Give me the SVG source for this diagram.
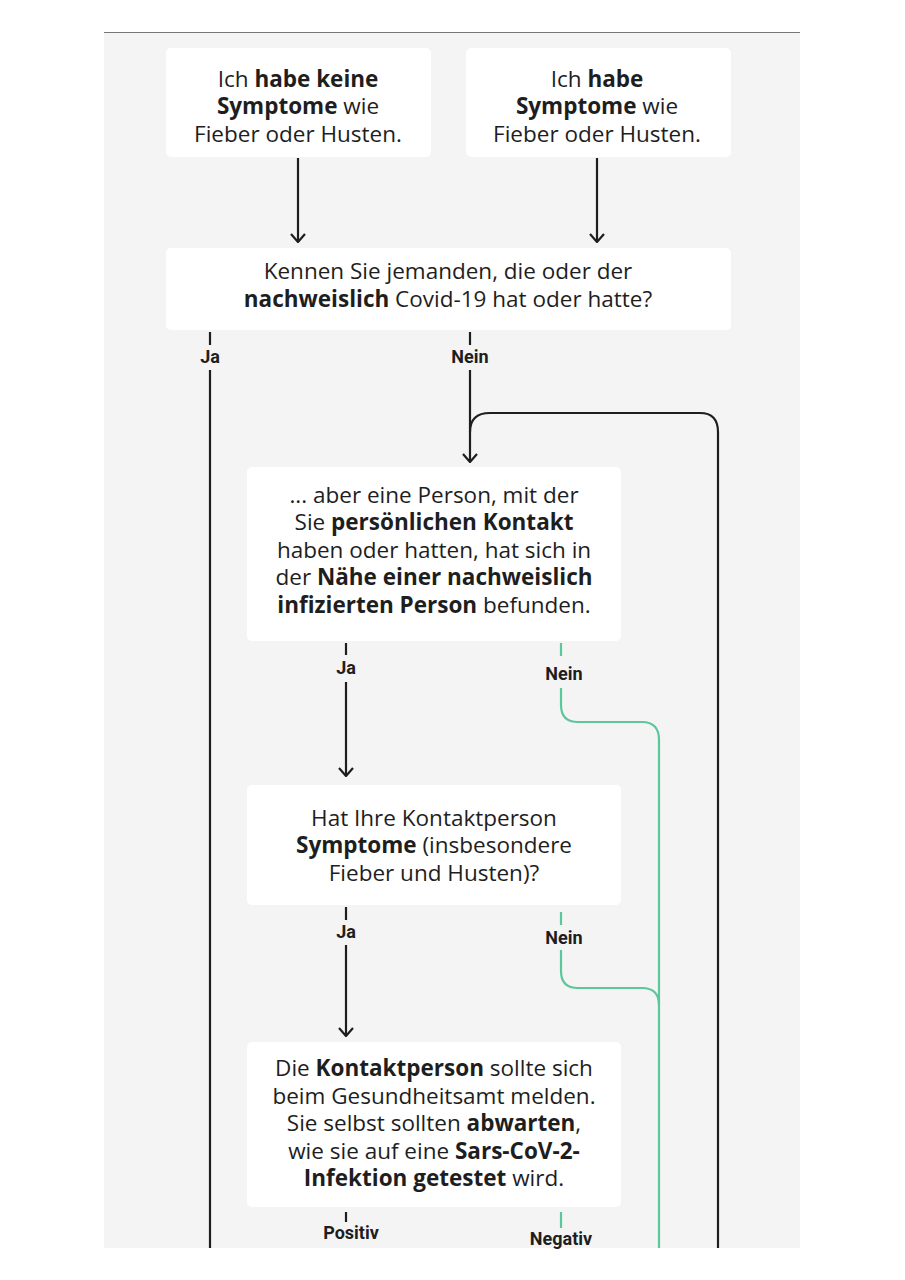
<svg xmlns="http://www.w3.org/2000/svg" width="905" height="1280" viewBox="0 0 905 1280">
<defs>
<style>
.box{fill:#fff}
.t{font-family:"Open Sans",Roboto,"Liberation Sans",sans-serif;font-size:22.5px;fill:#1e1e1e;text-anchor:middle}
.b{font-weight:bold}
.lbl{font-family:Roboto,"Liberation Sans",sans-serif;font-size:18px;font-weight:bold;fill:#1e1e1e;text-anchor:middle}
.k{fill:none;stroke:#1e1e1e;stroke-width:2.2}
.g{fill:none;stroke:#5cc79c;stroke-width:2.2}
</style>
<marker id="ar" viewBox="0 0 10 16" refX="9" refY="8" markerWidth="10" markerHeight="16" markerUnits="userSpaceOnUse" orient="auto">
<path d="M1 1 L9 8 L1 15" fill="none" stroke="#1e1e1e" stroke-width="2.2"/>
</marker>
</defs>
<rect x="0" y="0" width="905" height="1280" fill="#fff"/>
<rect x="104" y="32" width="696" height="1216" fill="#f4f4f4"/>
<line x1="104" y1="32.5" x2="800" y2="32.5" stroke="#777" stroke-width="1"/>
<g id="connectors">
<path class="k" d="M298 158 V242" marker-end="url(#ar)"/>
<path class="k" d="M597 158 V242" marker-end="url(#ar)"/>
<path class="k" d="M210 332 V345 M210 370 V1248"/>
<path class="k" d="M470 370 V462" marker-end="url(#ar)"/>
<path class="k" d="M470 332 V345"/>
<path class="k" d="M470 432 Q470 413 490 413 H700 Q718 413 718 432 V1248"/>
<path class="k" d="M346 643 V655"/>
<path class="k" d="M346 682 V776" marker-end="url(#ar)"/>
<path class="g" d="M561 643 V656 M561 688 V705 Q561 722 578 722 H642 Q659 722 659 740 V1248"/>
<path class="k" d="M346 907 V920"/>
<path class="k" d="M346 945 V1036" marker-end="url(#ar)"/>
<path class="g" d="M561 912 V925 M561 950 V971 Q561 988 578 988 H642 Q659 988 659 1005"/>
<path class="k" d="M346 1212 V1222"/>
<path class="g" d="M561 1212 V1228"/>
<text class="lbl" x="210" y="363">Ja</text>
<text class="lbl" x="470" y="363">Nein</text>
<text class="lbl" x="346" y="674">Ja</text>
<text class="lbl" x="564" y="680">Nein</text>
<text class="lbl" x="346" y="938">Ja</text>
<text class="lbl" x="564" y="944">Nein</text>
<text class="lbl" x="351" y="1239">Positiv</text>
<text class="lbl" x="561" y="1245">Negativ</text>
</g>
<g id="n1"><rect class="box" x="166" y="48" width="265" height="109" rx="5"/>
<text class="t" x="298" y="87">Ich <tspan class="b">habe keine</tspan></text>
<text class="t" x="298" y="114"><tspan class="b">Symptome</tspan> wie</text>
<text class="t" x="298" y="142">Fieber oder Husten.</text></g>
<g id="n2"><rect class="box" x="466" y="48" width="265" height="109" rx="5"/>
<text class="t" x="597" y="87">Ich <tspan class="b">habe</tspan></text>
<text class="t" x="597" y="114"><tspan class="b">Symptome</tspan> wie</text>
<text class="t" x="597" y="142">Fieber oder Husten.</text></g>
<g id="n3"><rect class="box" x="166" y="248" width="565" height="82" rx="5"/>
<text class="t" x="448" y="279">Kennen Sie jemanden, die oder der</text>
<text class="t" x="448" y="307"><tspan class="b">nachweislich</tspan> Covid-19 hat oder hatte?</text></g>
<g id="n4"><rect class="box" x="247" y="467" width="374" height="174" rx="5"/>
<text class="t" x="434" y="503">... aber eine Person, mit der</text>
<text class="t" x="434" y="530">Sie <tspan class="b">persönlichen Kontakt</tspan></text>
<text class="t" x="434" y="558">haben oder hatten, hat sich in</text>
<text class="t" x="434" y="585">der <tspan class="b">Nähe einer nachweislich</tspan></text>
<text class="t" x="434" y="613"><tspan class="b">infizierten Person</tspan> befunden.</text></g>
<g id="n5"><rect class="box" x="247" y="785" width="374" height="120" rx="5"/>
<text class="t" x="434" y="826">Hat Ihre Kontaktperson</text>
<text class="t" x="434" y="853"><tspan class="b">Symptome</tspan> (insbesondere</text>
<text class="t" x="434" y="881">Fieber und Husten)?</text></g>
<g id="n6"><rect class="box" x="247" y="1042" width="374" height="165" rx="5"/>
<text class="t" x="434" y="1076">Die <tspan class="b">Kontaktperson</tspan> sollte sich</text>
<text class="t" x="434" y="1104">beim Gesundheitsamt melden.</text>
<text class="t" x="434" y="1131">Sie selbst sollten <tspan class="b">abwarten</tspan>,</text>
<text class="t" x="434" y="1159">wie sie auf eine <tspan class="b">Sars-CoV-2-</tspan></text>
<text class="t" x="434" y="1186"><tspan class="b">Infektion getestet</tspan> wird.</text></g>
</svg>
